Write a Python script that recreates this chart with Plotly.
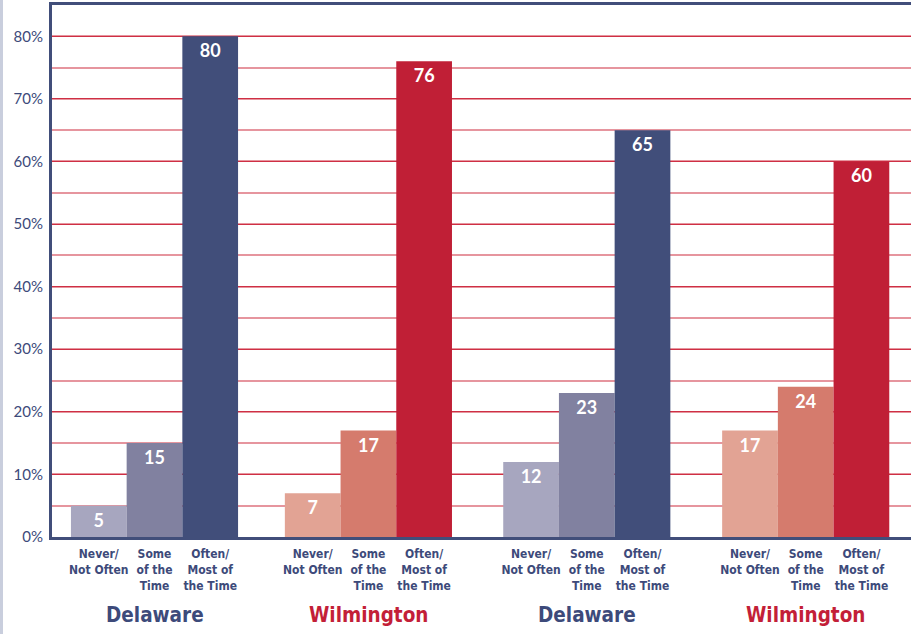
import plotly.graph_objects as go

groups = ["Delaware", "Wilmington", "Delaware", "Wilmington"]
group_colors = ["#3d4a7a", "#c31f38", "#3d4a7a", "#c31f38"]
categories = ["Never/<br>Not Often", "Some<br>of the<br>Time", "Often/<br>Most of<br>the Time"]
values = [
    [5, 15, 80],
    [7, 17, 76],
    [12, 23, 65],
    [17, 24, 60],
]
bar_colors = [
    ["#a7a6bf", "#8181a0", "#414e7a"],
    ["#e2a394", "#d57b6d", "#c01f36"],
    ["#a7a6bf", "#8181a0", "#414e7a"],
    ["#e2a394", "#d57b6d", "#c01f36"],
]
y_ticks = [0, 10, 20, 30, 40, 50, 60, 70, 80]
y_tick_text = [f"{v}%" for v in y_ticks]

# group start positions along the x axis (in bar-width units)
group_starts = [0.0, 3.84, 7.76, 11.69]
NARROW = "DejaVu Sans Condensed, Liberation Sans Narrow, sans-serif"
BLUE = "#3d4a7a"

fig = go.Figure()
tickvals, ticktext = [], []
for g, (name, vals, cols) in enumerate(zip(groups, values, bar_colors)):
    xs = [group_starts[g] + i + 0.5 for i in range(3)]
    tickvals += xs
    ticktext += categories
    fig.add_trace(go.Bar(
        x=xs, y=vals, width=1, marker=dict(color=cols, line=dict(width=0)),
        text=[str(v) for v in vals], textposition="inside", insidetextanchor="end",
        textangle=0, constraintext="none",
        textfont=dict(color="white", size=18, family="Lato, DejaVu Sans, sans-serif", weight="bold"),
        showlegend=False, hoverinfo="skip", name=name,
    ))
    fig.add_annotation(
        x=group_starts[g] + 1.5, y=-0.1466, xref="x", yref="paper", text=f"<b>{name}</b>",
        showarrow=False, yanchor="middle",
        font=dict(size=20.5, color=group_colors[g], family=NARROW),
    )

# light page frame strip on the left
fig.add_shape(type="rect", xref="paper", yref="paper", x0=-52/859, x1=-49/859, y0=-0.2, y1=1.02,
              fillcolor="#c9cedd", line=dict(width=0), layer="below")

fig.update_layout(
    width=911, height=634,
    margin=dict(l=52, r=0, t=5, b=97, autoexpand=False),
    paper_bgcolor="white", plot_bgcolor="white",
    barmode="overlay",
    xaxis=dict(
        range=[-0.34, 15.08], tickvals=tickvals, ticktext=ticktext, automargin=False,
        showline=True, linecolor="#414e7a", linewidth=3, mirror=True,
        showgrid=False, zeroline=False, ticks="outside", ticklen=4, tickcolor="rgba(0,0,0,0)",
        tickfont=dict(size=12, color=BLUE, family=NARROW, weight="bold"),
    ),
    yaxis=dict(
        range=[0, 85], tickvals=y_ticks, ticktext=y_tick_text, automargin=False,
        showline=True, linecolor="#414e7a", linewidth=3,
        showgrid=True, gridcolor="#cf2f44", gridwidth=1.3, zeroline=False,
        minor=dict(dtick=5, tick0=0, showgrid=True, gridcolor="#e6959e", gridwidth=1.6),
        ticks="outside", ticklen=3, tickcolor="rgba(0,0,0,0)",
        tickfont=dict(size=15, color=BLUE, family="Lato, DejaVu Sans, sans-serif"),
    ),
)

fig.write_html("out.html", config={"displayModeBar": False},
               post_script="document.body.style.margin='0';")
